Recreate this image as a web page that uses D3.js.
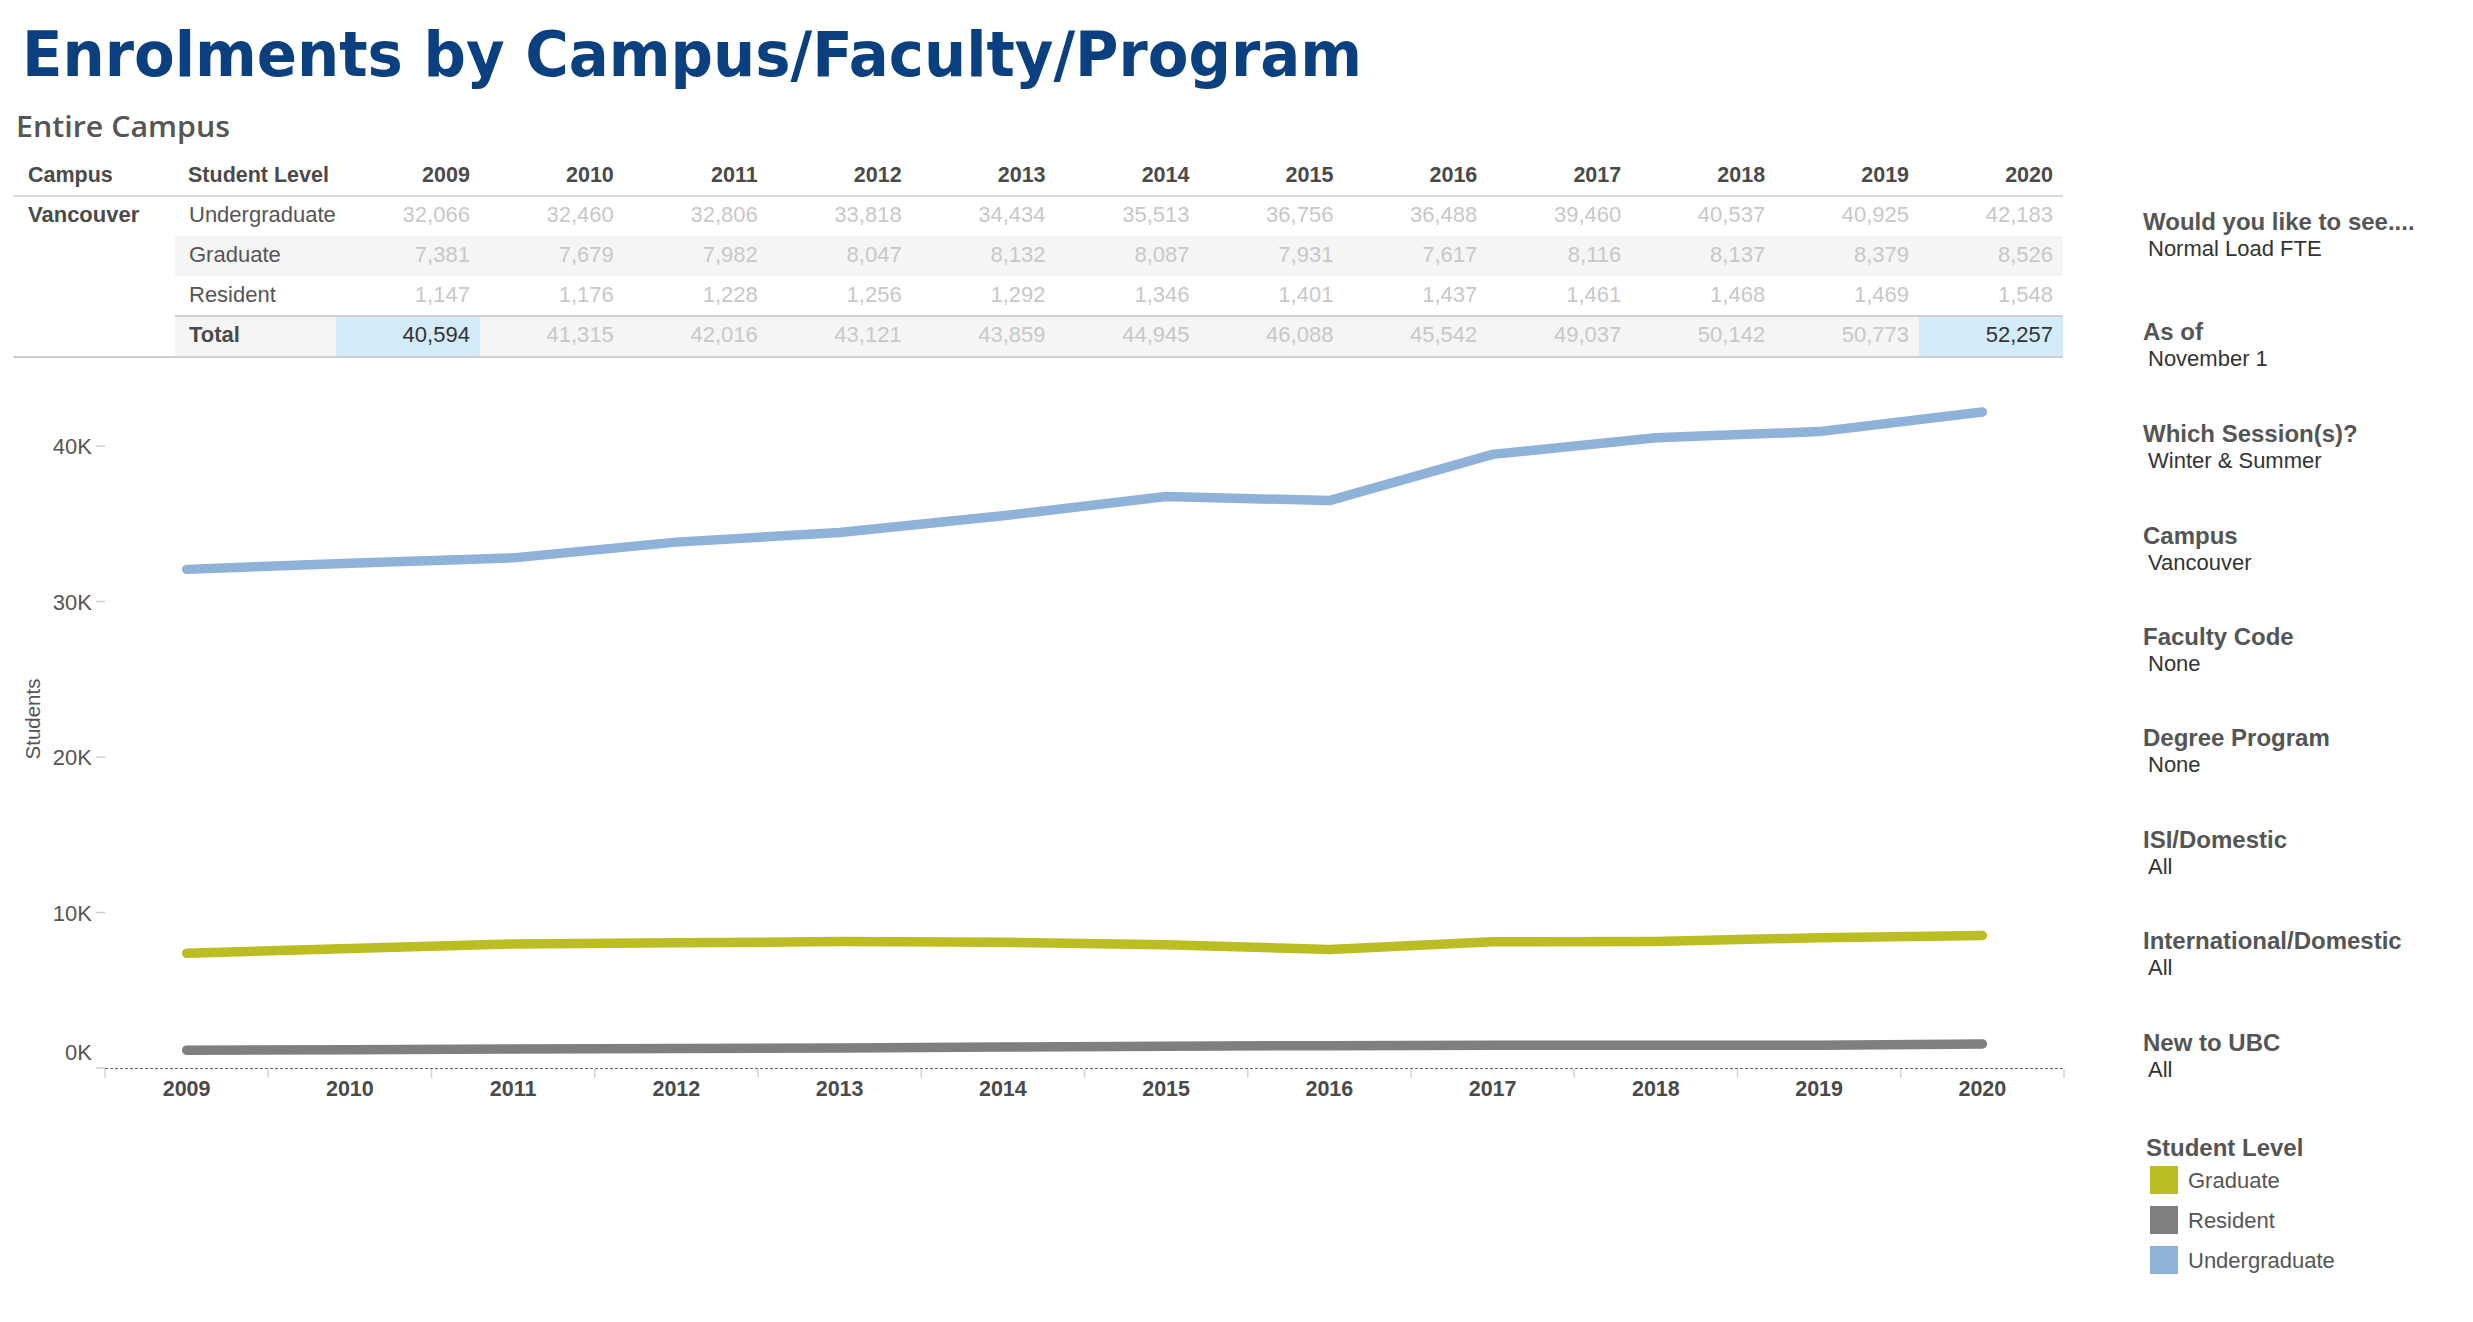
<!DOCTYPE html>
<html>
<head>
<meta charset="utf-8">
<script src="https://cdn.jsdelivr.net/npm/d3@7"></script>
<style>
  html, body { margin: 0; padding: 0; background: #fff; }
  svg { display: block; font-family: "Liberation Sans", Arial, sans-serif; }
</style>
</head>
<body>
<svg id="chart" width="2473" height="1322"></svg>
<script>
// ---------- data ----------
const years = ["2009","2010","2011","2012","2013","2014","2015","2016","2017","2018","2019","2020"];
const levels = ["Undergraduate","Graduate","Resident"];
const undergraduate = [32066,32460,32806,33818,34434,35513,36756,36488,39460,40537,40925,42183];
const graduate      = [7381,7679,7982,8047,8132,8087,7931,7617,8116,8137,8379,8526];
const resident      = [1147,1176,1228,1256,1292,1346,1401,1437,1461,1468,1469,1548];
const totals        = [40594,41315,42016,43121,43859,44945,46088,45542,49037,50142,50773,52257];
const highlightedTotals = ["2009","2020"];
const yTicks = [0,10000,20000,30000,40000];
const legendItems = ["Graduate","Resident","Undergraduate"];
const filterHeaders = ["Would you like to see....","As of","Which Session(s)?","Campus","Faculty Code","Degree Program","ISI/Domestic","International/Domestic","New to UBC"];
const filterValues  = ["Normal Load FTE","November 1","Winter & Summer","Vancouver","None","None","All","All","All"];
const colors = { "Undergraduate": "#8fb2d9", "Graduate": "#bcbd22", "Resident": "#7f7f7f" };
const seriesByLevel = { "Undergraduate": undergraduate, "Graduate": graduate, "Resident": resident };

const svg = d3.select("#chart");
const fmt = d3.format(",");

// ---------- titles ----------
svg.append("text")
  .attr("x", 22).attr("y", 76)
  .attr("font-family", "'DejaVu Sans Condensed', 'DejaVu Sans', sans-serif")
  .attr("font-weight", "bold").attr("font-size", 63)
  .attr("fill", "#0a4080")
  .attr("textLength", 1340).attr("lengthAdjust", "spacingAndGlyphs")
  .text("Enrolments by Campus/Faculty/Program");

svg.append("text")
  .attr("x", 16).attr("y", 137)
  .attr("font-family", "'Open Sans', sans-serif")
  .attr("font-weight", 600).attr("font-size", 29)
  .attr("fill", "#555")
  .attr("textLength", 214).attr("lengthAdjust", "spacingAndGlyphs")
  .text("Entire Campus");

// ---------- table ----------
const tx = d3.scaleBand().domain(years).range([336, 2063]);
const tableLeft = 13, tableRight = 2063, bandLeft = 175;
const rowTop = 196, rowH = 40;
const table = svg.append("g");

[1, 3].forEach(i => {
  table.append("rect")
    .attr("x", bandLeft).attr("y", rowTop + i * rowH)
    .attr("width", tableRight - bandLeft).attr("height", rowH)
    .attr("fill", "#f5f5f5");
});
table.selectAll("rect.hl").data(highlightedTotals).join("rect")
  .attr("class", "hl")
  .attr("x", d => tx(d)).attr("y", rowTop + 3 * rowH + 1)
  .attr("width", tx.bandwidth()).attr("height", rowH - 1)
  .attr("fill", "#d3ebfb");

table.append("line").attr("x1", tableLeft).attr("x2", tableRight)
  .attr("y1", rowTop).attr("y2", rowTop).attr("stroke", "#dadada").attr("stroke-width", 2);
table.append("line").attr("x1", bandLeft).attr("x2", tableRight)
  .attr("y1", rowTop + 3 * rowH).attr("y2", rowTop + 3 * rowH).attr("stroke", "#d0d0d0").attr("stroke-width", 2);
table.append("line").attr("x1", tableLeft).attr("x2", tableRight)
  .attr("y1", rowTop + 4 * rowH + 1).attr("y2", rowTop + 4 * rowH + 1).attr("stroke", "#d0d0d0").attr("stroke-width", 2);

const headFont = 21.5, cellFont = 22;
table.append("text").attr("x", 28).attr("y", 182).attr("font-size", headFont)
  .attr("font-weight", "bold").attr("fill", "#4a4a4a").text("Campus");
table.append("text").attr("x", 188).attr("y", 182).attr("font-size", headFont)
  .attr("font-weight", "bold").attr("fill", "#4a4a4a").text("Student Level");
table.selectAll("text.yh").data(years).join("text")
  .attr("class", "yh")
  .attr("x", d => tx(d) + tx.bandwidth() - 10).attr("y", 182)
  .attr("text-anchor", "end").attr("font-size", headFont)
  .attr("font-weight", "bold").attr("fill", "#4a4a4a").text(d => d);

table.append("text").attr("x", 28).attr("y", rowTop + 26).attr("font-size", cellFont)
  .attr("font-weight", "bold").attr("fill", "#4a4a4a").text("Vancouver");

const rows = levels.map(l => ({ label: l, values: seriesByLevel[l], bold: false }))
  .concat([{ label: "Total", values: totals, bold: true }]);

rows.forEach((r, i) => {
  const base = rowTop + i * rowH + 26;
  table.append("text").attr("x", 189).attr("y", base).attr("font-size", cellFont)
    .attr("font-weight", r.bold ? "bold" : "normal").attr("fill", r.bold ? "#4a4a4a" : "#555")
    .text(r.label);
  table.selectAll(null).data(r.values).join("text")
    .attr("x", (d, j) => tx(years[j]) + tx.bandwidth() - 10)
    .attr("y", base)
    .attr("text-anchor", "end").attr("font-size", cellFont)
    .attr("fill", (d, j) => (r.bold && highlightedTotals.includes(years[j])) ? "#333" : "#c8c8c8")
    .text(d => fmt(d));
});

// ---------- line chart ----------
const x = d3.scaleBand().domain(years).range([105, 2064]);
const y = d3.scaleLinear().domain([0, 45000]).range([1068, 1068 - 45000 * 0.01555]);
const xc = d => x(d) + x.bandwidth() / 2;

const yAxis = svg.append("g");
yAxis.selectAll("line").data(yTicks).join("line")
  .attr("x1", 96).attr("x2", 105)
  .attr("y1", d => y(d)).attr("y2", d => y(d))
  .attr("stroke", "#cfcfcf").attr("stroke-width", 1.5);
yAxis.selectAll("text").data(yTicks).join("text")
  .attr("x", 92)
  .attr("y", d => d === 0 ? y(d) - 16 + 8 : y(d) + 8)
  .attr("text-anchor", "end").attr("font-size", 22).attr("fill", "#555")
  .text(d => (d / 1000) + "K");

svg.append("text")
  .attr("transform", "translate(40,719) rotate(-90)")
  .attr("text-anchor", "middle").attr("font-size", 20.5).attr("fill", "#555")
  .text("Students");

const xAxis = svg.append("g");
xAxis.append("line").attr("x1", 105).attr("x2", 2064).attr("y1", 1068.5).attr("y2", 1068.5)
  .attr("stroke", "#666").attr("stroke-width", 1).attr("stroke-dasharray", "3,2");
const boundaries = years.map(d => x(d)).concat([x.range()[1]]);
xAxis.selectAll("line.tk").data(boundaries).join("line")
  .attr("class", "tk")
  .attr("x1", d => d).attr("x2", d => d).attr("y1", 1069).attr("y2", 1078)
  .attr("stroke", "#d4d4d4").attr("stroke-width", 1.5);
xAxis.selectAll("text").data(years).join("text")
  .attr("x", d => xc(d)).attr("y", 1096)
  .attr("text-anchor", "middle").attr("font-size", 21.5).attr("font-weight", "bold")
  .attr("fill", "#4a4a4a").text(d => d);

const line = d3.line().x((d, i) => xc(years[i])).y(d => y(d));
const drawOrder = ["Resident", "Graduate", "Undergraduate"];
svg.append("g").selectAll("path").data(drawOrder).join("path")
  .attr("d", l => line(seriesByLevel[l]))
  .attr("fill", "none")
  .attr("stroke", l => colors[l])
  .attr("stroke-width", 9.5)
  .attr("stroke-linecap", "round")
  .attr("stroke-linejoin", "round");

// ---------- right panel filters ----------
const panel = svg.append("g");
const filterBaselines = [230, 340, 442, 544, 645, 746, 848, 949, 1051];
filterHeaders.forEach((h, i) => {
  panel.append("text").attr("x", 2143).attr("y", filterBaselines[i])
    .attr("font-size", 24).attr("font-weight", "bold").attr("fill", "#555").text(h);
  panel.append("text").attr("x", 2148).attr("y", filterBaselines[i] + 26)
    .attr("font-size", 22).attr("fill", "#333").text(filterValues[i]);
});

panel.append("text").attr("x", 2146).attr("y", 1156)
  .attr("font-size", 24).attr("font-weight", "bold").attr("fill", "#555").text("Student Level");
const lg = panel.selectAll("g.lg").data(legendItems).join("g")
  .attr("class", "lg")
  .attr("transform", (d, i) => `translate(2150, ${1180 + i * 40})`);
lg.append("rect").attr("x", 0).attr("y", -14).attr("width", 28).attr("height", 28)
  .attr("fill", d => colors[d]);
lg.append("text").attr("x", 38).attr("y", 8).attr("font-size", 22).attr("fill", "#555").text(d => d);
</script>
</body>
</html>
